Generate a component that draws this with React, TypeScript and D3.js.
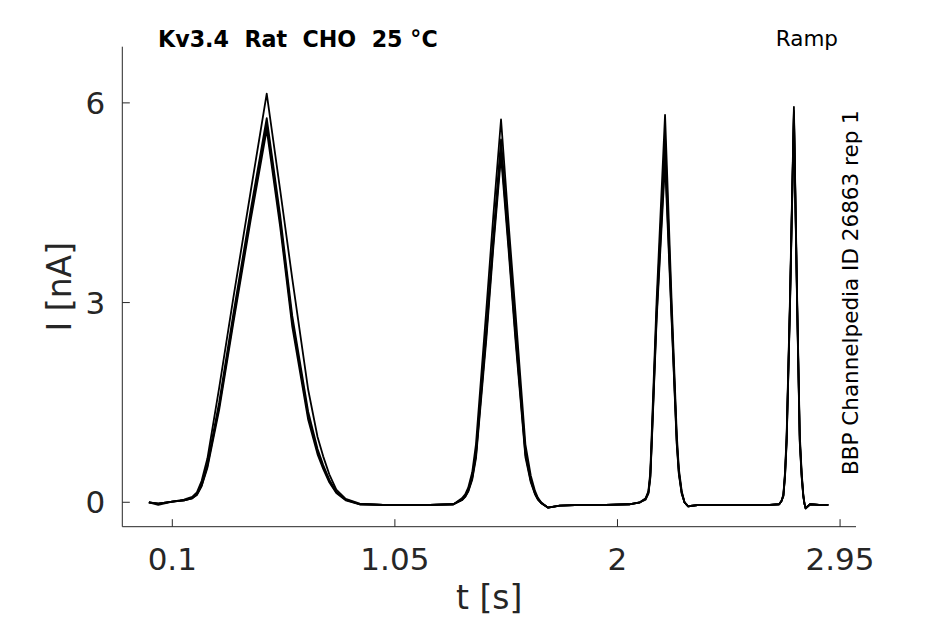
import React from "react";
import * as d3 from "d3";

// time grid [s]
const time = [
  0.0, 0.04, 0.1, 0.15, 0.185, 0.205, 0.225, 0.25, 0.3, 0.36,
  0.435, 0.503, 0.56, 0.612, 0.68, 0.72, 0.744, 0.77, 0.8, 0.84,
  0.9, 1.0, 1.1, 1.2, 1.3, 1.336, 1.35, 1.363, 1.38, 1.396,
  1.44, 1.47, 1.503, 1.535, 1.564, 1.607, 1.63, 1.648, 1.66, 1.674,
  1.703, 1.754, 1.85, 1.95, 2.05, 2.096, 2.12, 2.132, 2.14, 2.146,
  2.167, 2.203, 2.231, 2.253, 2.262, 2.274, 2.286, 2.302, 2.35, 2.45,
  2.55, 2.65, 2.69, 2.7, 2.708, 2.715, 2.722, 2.736, 2.753, 2.767,
  2.778, 2.786, 2.793, 2.798, 2.803, 2.822, 2.86, 2.9,
];

// current [nA] per sweep
const sweepA = [
  0.0, -0.04, 0.01, 0.04, 0.08, 0.15, 0.32, 0.66, 1.72, 3.06,
  4.68, 6.14, 4.7, 3.36, 1.69, 0.98, 0.69, 0.42, 0.19, 0.05,
  -0.02, -0.04, -0.04, -0.04, -0.03, 0.06, 0.12, 0.22, 0.45, 0.87,
  2.88, 4.3, 5.75, 4.2, 2.88, 0.87, 0.4, 0.17, 0.07, 0.0,
  -0.08, -0.05, -0.04, -0.04, -0.03, 0.0, 0.06, 0.17, 0.45, 1.02,
  3.03, 5.82, 3.03, 1.02, 0.5, 0.17, 0.0, -0.06, -0.04, -0.04,
  -0.04, -0.04, -0.03, 0.02, 0.12, 0.45, 1.02, 3.03, 5.94, 3.03,
  1.02, 0.45, 0.12, -0.02, -0.09, -0.03, -0.04, -0.04,
];
const sweepB = [
  0.0, -0.02, 0.01, 0.03, 0.07, 0.13, 0.27, 0.58, 1.5, 2.82,
  4.4, 5.77, 4.32, 2.8, 1.36, 0.8, 0.56, 0.34, 0.16, 0.04,
  -0.03, -0.04, -0.04, -0.04, -0.03, 0.04, 0.09, 0.18, 0.38, 0.74,
  2.62, 4.0, 5.45, 3.98, 2.64, 0.77, 0.34, 0.14, 0.05, -0.01,
  -0.08, -0.05, -0.04, -0.04, -0.03, 0.0, 0.05, 0.15, 0.4, 0.92,
  2.88, 5.5, 2.88, 0.94, 0.46, 0.15, 0.0, -0.06, -0.04, -0.04,
  -0.04, -0.04, -0.03, 0.02, 0.1, 0.42, 0.96, 2.96, 5.88, 2.96,
  0.96, 0.42, 0.1, -0.02, -0.09, -0.03, -0.04, -0.04,
];
const sweepC = [
  0.0, -0.02, 0.01, 0.03, 0.06, 0.12, 0.25, 0.55, 1.44, 2.74,
  4.32, 5.68, 4.23, 2.72, 1.3, 0.76, 0.53, 0.32, 0.15, 0.04,
  -0.03, -0.04, -0.04, -0.04, -0.03, 0.04, 0.09, 0.17, 0.36, 0.7,
  2.52, 3.9, 5.3, 3.88, 2.54, 0.72, 0.32, 0.13, 0.05, -0.01,
  -0.08, -0.05, -0.04, -0.04, -0.03, 0.0, 0.05, 0.14, 0.38, 0.88,
  2.8, 5.25, 2.8, 0.9, 0.44, 0.14, 0.0, -0.06, -0.04, -0.04,
  -0.04, -0.04, -0.03, 0.02, 0.1, 0.4, 0.93, 2.92, 5.85, 2.92,
  0.93, 0.4, 0.1, -0.02, -0.09, -0.03, -0.04, -0.04,
];
const sweepD = [
  0.0, -0.02, 0.01, 0.03, 0.06, 0.11, 0.24, 0.52, 1.39, 2.68,
  4.25, 5.6, 4.15, 2.64, 1.24, 0.72, 0.5, 0.3, 0.14, 0.03,
  -0.03, -0.04, -0.04, -0.04, -0.03, 0.03, 0.08, 0.16, 0.34, 0.66,
  2.44, 3.82, 5.2, 3.8, 2.46, 0.68, 0.3, 0.12, 0.04, -0.01,
  -0.08, -0.05, -0.04, -0.04, -0.03, 0.0, 0.04, 0.13, 0.36, 0.85,
  2.74, 5.1, 2.74, 0.87, 0.42, 0.13, 0.0, -0.06, -0.04, -0.04,
  -0.04, -0.04, -0.03, 0.02, 0.09, 0.38, 0.9, 2.88, 5.8, 2.88,
  0.9, 0.38, 0.09, -0.02, -0.09, -0.03, -0.04, -0.04,
];
const sweeps = [sweepD, sweepC, sweepB, sweepA];

const xTicks = [0.1, 1.05, 2, 2.95];
const xTickLabels = ["0.1", "1.05", "2", "2.95"];
const yTicks = [0, 3, 6];
const yTickLabels = ["0", "3", "6"];

const titleText = "Kv3.4  Rat  CHO  25 °C";
const protocolText = "Ramp";
const sideText = "BBP Channelpedia ID 26863 rep 1";
const xLabel = "t [s]";
const yLabel = "I [nA]";

const W = 945;
const H = 624;
const FONT = "'DejaVu Sans', sans-serif";
const AX = "#262626";

export default function App() {
  const left = 122.3;
  const right = 856;
  const top = 46.7;
  const bottom = 526.7;
  const x = d3.scaleLinear().domain([-0.1134, 3.018]).range([left, right]);
  const y = d3.scaleLinear().domain([-0.367, 6.844]).range([bottom, top]);
  const line = d3
    .line<number>()
    .x((_, i) => x(time[i]))
    .y((d) => y(d))
    .curve(d3.curveLinear);

  const tickLen = 7.5;

  return (
    <svg
      width={W}
      height={H}
      viewBox={`0 0 ${W} ${H}`}
      style={{ position: "absolute", left: 0, top: 0, background: "#fff" }}
    >
      <rect x={0} y={0} width={W} height={H} fill="#fff" />
      {/* traces */}
      <g fill="none" stroke="#000" strokeWidth={1.8} strokeLinejoin="round">
        {sweeps.map((s, k) => (
          <path key={k} d={line(s) || ""} />
        ))}
      </g>
      {/* axes */}
      <g stroke={AX} strokeWidth={1} fill="none">
        <line x1={left} x2={left} y1={top} y2={bottom} />
        <line x1={left} x2={right} y1={bottom} y2={bottom} />
        {xTicks.map((t) => (
          <line key={"xt" + t} x1={x(t)} x2={x(t)} y1={bottom} y2={bottom - tickLen} />
        ))}
        {yTicks.map((t) => (
          <line key={"yt" + t} x1={left} x2={left + tickLen} y1={y(t)} y2={y(t)} />
        ))}
      </g>
      <g fill={AX} fontFamily={FONT} fontSize={31}>
        {xTicks.map((t, i) => (
          <text key={"xl" + t} x={x(t)} y={570} textAnchor="middle">
            {xTickLabels[i]}
          </text>
        ))}
        {yTicks.map((t, i) => (
          <text key={"yl" + t} x={left - 17} y={y(t)} textAnchor="end" dominantBaseline="central">
            {yTickLabels[i]}
          </text>
        ))}
      </g>
      <text x={(left + right) / 2} y={609} textAnchor="middle" fontFamily={FONT} fontSize={33} fill={AX}>
        {xLabel}
      </text>
      <text
        transform={`translate(71,${(top + bottom) / 2}) rotate(-90)`}
        textAnchor="middle"
        fontFamily={FONT}
        fontSize={33}
        fill={AX}
      >
        {yLabel}
      </text>
      <text x={158} y={47} fontFamily={FONT} fontSize={22.2} fontWeight="bold" fill="#000" style={{ whiteSpace: "pre" }}>
        {titleText}
      </text>
      <text x={838} y={46} textAnchor="end" fontFamily={FONT} fontSize={21.5} fill="#000">
        {protocolText}
      </text>
      <text transform="translate(858,475) rotate(-90)" fontFamily={FONT} fontSize={21.5} fill="#000">
        {sideText}
      </text>
    </svg>
  );
}
